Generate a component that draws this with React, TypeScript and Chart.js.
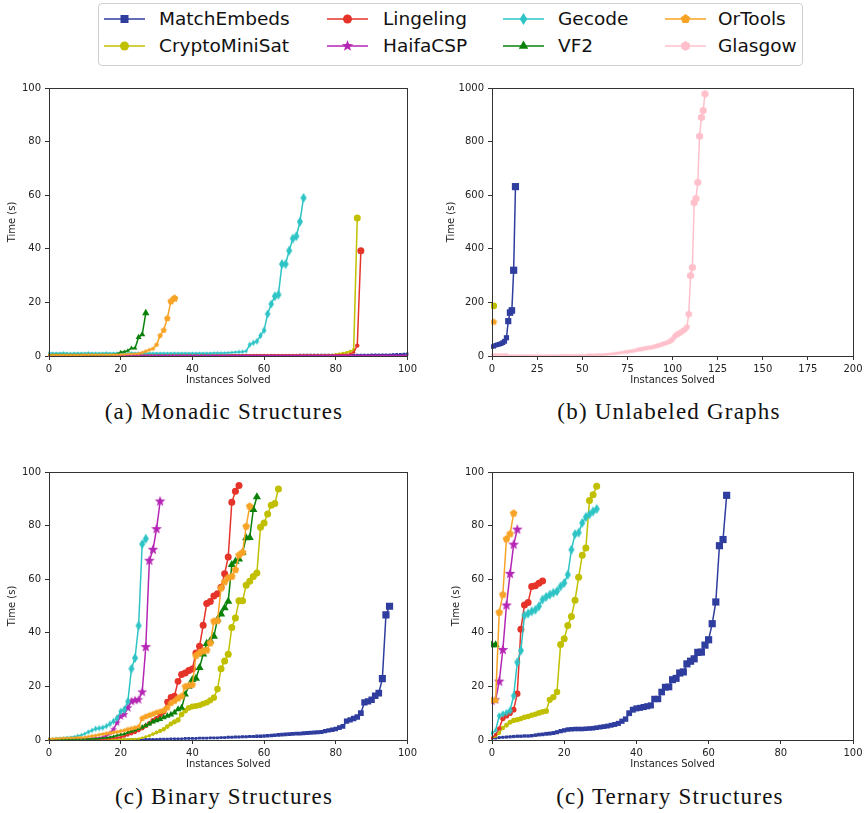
import React, { useEffect, useRef } from "react";
import { Chart, registerables } from "chart.js";

Chart.register(...registerables);

// ---------------- series meta (legend order) ----------------
const seriesNames = ["MatchEmbeds", "CryptoMiniSat", "Lingeling", "HaifaCSP", "Gecode", "VF2", "OrTools", "Glasgow"];
const seriesColors = ["#2e3d9e", "#c0c000", "#e5332a", "#b526b5", "#2ec4c6", "#0a820a", "#f7a326", "#ffc0cb"];
const seriesMarkers = ["square", "circle", "circle", "star", "thinDiamond", "triangle", "pentagon", "hexagon"];

// ---------------- (a) Monadic Structures ----------------
const monadicMatchEmbeds = [
  0.3, 0.3, 0.3, 0.3, 0.3, 0.3, 0.3, 0.3, 0.3, 0.3,
  0.3, 0.3, 0.3, 0.3, 0.3, 0.3, 0.3, 0.3, 0.3, 0.3,
  0.3, 0.3, 0.3, 0.3, 0.3, 0.3, 0.3, 0.3, 0.3, 0.3,
  0.3, 0.3, 0.3, 0.3, 0.3, 0.3, 0.3, 0.3, 0.3, 0.3,
  0.3, 0.3, 0.3, 0.3, 0.3, 0.3, 0.3, 0.3, 0.3, 0.3,
  0.35, 0.35, 0.35, 0.35, 0.35, 0.35, 0.35, 0.35, 0.35, 0.35,
  0.35, 0.35, 0.35, 0.35, 0.35, 0.35, 0.35, 0.35, 0.35, 0.35,
  0.4, 0.4, 0.4, 0.4, 0.4, 0.4, 0.4, 0.4, 0.4, 0.4,
  0.4, 0.4, 0.4, 0.4, 0.4, 0.4, 0.4, 0.4, 0.4, 0.4,
  0.45, 0.5, 0.5, 0.5, 0.5, 0.5, 0.55, 0.6, 0.6, 0.7, 0.8,
];
const monadicCryptoMiniSat = [
  0.4, 0.4, 0.4, 0.4, 0.4, 0.4, 0.4, 0.4, 0.4, 0.4,
  0.4, 0.4, 0.4, 0.4, 0.4, 0.4, 0.4, 0.4, 0.4, 0.4,
  0.4, 0.4, 0.4, 0.4, 0.4, 0.4, 0.4, 0.4, 0.4, 0.4,
  0.4, 0.4, 0.4, 0.4, 0.4, 0.4, 0.4, 0.4, 0.4, 0.4,
  0.4, 0.4, 0.4, 0.4, 0.4, 0.4, 0.4, 0.4, 0.4, 0.4,
  0.4, 0.4, 0.4, 0.4, 0.4, 0.4, 0.4, 0.4, 0.4, 0.4,
  0.4, 0.4, 0.4, 0.4, 0.4, 0.4, 0.4, 0.4, 0.4, 0.4,
  0.4, 0.4, 0.4, 0.4, 0.4, 0.4, 0.4, 0.4, 0.4, 0.4,
  0.6, 0.8, 1.0, 1.3, 1.7, 2.3, 51.5,
];
const monadicLingeling = [
  0.3, 0.3, 0.3, 0.3, 0.3, 0.3, 0.3, 0.3, 0.3, 0.3,
  0.3, 0.3, 0.3, 0.3, 0.3, 0.3, 0.3, 0.3, 0.3, 0.3,
  0.3, 0.3, 0.3, 0.3, 0.3, 0.3, 0.3, 0.3, 0.3, 0.3,
  0.3, 0.3, 0.3, 0.3, 0.3, 0.3, 0.3, 0.3, 0.3, 0.3,
  0.3, 0.3, 0.3, 0.3, 0.3, 0.3, 0.3, 0.3, 0.3, 0.3,
  0.3, 0.3, 0.3, 0.3, 0.3, 0.3, 0.3, 0.3, 0.3, 0.3,
  0.3, 0.3, 0.3, 0.3, 0.3, 0.3, 0.3, 0.3, 0.3, 0.3,
  0.3, 0.3, 0.3, 0.3, 0.3, 0.3, 0.3, 0.3, 0.3, 0.3,
  0.4, 0.4, 0.5, 0.5, 0.7, 1.4, 3.9, 39.3,
];
const monadicHaifaCSP = [
  0.15, 0.15, 0.15, 0.15, 0.15, 0.15, 0.15, 0.15, 0.15, 0.15,
  0.15, 0.15, 0.15, 0.15, 0.15, 0.15, 0.15, 0.15, 0.15, 0.15,
  0.15, 0.15, 0.15, 0.15, 0.15, 0.15, 0.15, 0.15, 0.15, 0.15,
  0.15, 0.15, 0.15, 0.15, 0.15, 0.15, 0.15, 0.15, 0.15, 0.15,
  0.15, 0.15, 0.15, 0.15, 0.15, 0.15, 0.15, 0.15, 0.15, 0.15,
  0.15, 0.15, 0.15, 0.15, 0.15, 0.15, 0.15, 0.15, 0.15, 0.15,
  0.15, 0.15, 0.15, 0.15, 0.15, 0.15, 0.15, 0.15, 0.15, 0.15,
  0.15, 0.15, 0.15, 0.15, 0.15, 0.15, 0.15, 0.15, 0.15, 0.15,
  0.15, 0.15, 0.15, 0.15, 0.15, 0.15, 0.15, 0.15, 0.15, 0.15,
  0.15, 0.15, 0.15, 0.15, 0.15, 0.15, 0.15, 0.15, 0.15, 0.15, 0.15,
];
const monadicGecode = [
  1.1, 1.0, 1.0, 1.0, 1.1, 1.0, 0.9, 1.0, 1.0, 1.0,
  1.0, 1.1, 1.0, 1.0, 1.0, 1.0, 1.1, 1.0, 1.0, 1.0,
  1.0, 1.0, 1.0, 1.1, 1.0, 1.0, 1.0, 1.0, 1.0, 1.0,
  1.0, 1.0, 1.0, 1.0, 1.0, 1.0, 1.0, 1.0, 1.0, 1.0,
  1.0, 1.0, 1.0, 1.0, 1.0, 1.0, 1.1, 1.1, 1.1, 1.1,
  1.2, 1.3, 1.4, 1.5, 1.6, 1.8,
  4.2, 4.9, 5.5, 7.6, 9.6, 15.7, 19.4, 22.3, 22.9, 34.3, 34.3, 39.3, 43.8, 44.7, 50.1, 59.0,
];
const monadicVF2 = [
  0.5, 0.5, 0.5, 0.5, 0.5, 0.5, 0.5, 0.5, 0.5, 0.5,
  0.5, 0.5, 0.5, 0.5, 0.5, 0.5, 0.5, 0.5, 0.6, 0.7,
  1.5, 1.6, 2.0, 2.9, 2.9, 7.0, 8.0, 16.0,
];
const monadicOrTools = [
  0.4, 0.4, 0.4, 0.4, 0.4, 0.4, 0.4, 0.4, 0.4, 0.4,
  0.5, 0.5, 0.5, 0.5, 0.5, 0.5, 0.5, 0.5, 0.5, 0.5,
  0.6, 0.6, 0.7, 0.7, 0.8,
  0.9, 1.3, 1.8, 2.3, 2.7, 4.2, 7.6, 9.6, 14.0, 20.4, 21.5,
];
const monadicGlasgow: (number | null)[] = [];

// ---------------- (b) Unlabeled Graphs ----------------
const unlabeledMatchEmbeds = [35, 36, 40, 42, 44, 46, 50, 55, 68, 130, 162, 170, 320, 632];
const unlabeledCryptoMiniSat = [null, 187];
const unlabeledLingeling: (number | null)[] = [];
const unlabeledHaifaCSP: (number | null)[] = [];
const unlabeledGecode: (number | null)[] = [];
const unlabeledVF2: (number | null)[] = [];
const unlabeledOrTools = [null, 127];
const unlabeledGlasgow = [
  5, 5, 5, 5, 5, 5, 5, 5, 5, 3,
  2, 2, 2, 2, 2, 2, 2, 2, 2, 2,
  2, 2, 2, 2, 2, 2, 2, 2, 2, 2,
  2, 2, 2, 2, 2, 2, 2, 2, 3, 3,
  3, 3, 3, 3, 3, 3, 3, 3, 3, 3,
  3, 3, 3, 4, 4, 4, 4, 4, 5, 5,
  5, 5, 5.5, 6, 6.5, 7, 7.5, 8, 9, 10,
  11, 12, 13, 14, 15, 16, 17, 18, 19, 20,
  22, 24, 25, 26, 27, 29, 30, 31, 32, 33,
  35, 37, 39, 41, 43, 46, 48, 50, 53, 57,
  62, 72, 78, 82, 86, 90, 95, 100, 108, 156,
  300, 330, 572, 587, 648, 820, 890, 916, 978,
];

// ---------------- (c) Binary Structures ----------------
const binaryMatchEmbeds = [
  0.1, 0.1, 0.1, 0.1, 0.1, 0.1, 0.1, 0.1, 0.1, 0.1,
  0.1, 0.1, 0.1, 0.1, 0.2, 0.2, 0.2, 0.2, 0.2, 0.2,
  0.2, 0.2, 0.2, 0.2, 0.2, 0.3, 0.3, 0.3, 0.3, 0.3,
  0.3, 0.4, 0.4, 0.4, 0.5, 0.5, 0.5, 0.5, 0.6, 0.6,
  0.6, 0.6, 0.7, 0.7, 0.7, 0.8, 0.8, 0.8, 0.9, 0.9,
  1.0, 1.0, 1.1, 1.1, 1.2, 1.2, 1.3, 1.3, 1.4, 1.4,
  1.5, 1.6, 1.7, 1.8, 1.9, 2.0, 2.1, 2.2, 2.3, 2.4,
  2.4, 2.5, 2.6, 2.7, 2.8, 2.9, 3.0, 3.3, 3.6, 3.8,
  4.1, 4.6, 5.1, 7.0, 7.5, 8.0, 8.6, 10.0, 14.0, 14.4,
  15.0, 16.5, 17.5, 22.9, 46.7, 49.9,
];
const binaryCryptoMiniSat = [
  0.1, 0.1, 0.1, 0.1, 0.1, 0.1, 0.1, 0.1, 0.1, 0.1,
  0.1, 0.1, 0.1, 0.2, 0.2, 0.2, 0.2, 0.2, 0.2, 0.3,
  0.3, 0.3, 0.3, 0.4, 0.4, 0.5,
  0.8, 1.2, 1.6, 2.2, 2.8, 3.4, 4.0, 5.0, 6.0, 6.8,
  7.5, 9.5, 11.0, 12.0, 12.5, 12.7, 13.0, 13.5, 14.0, 14.8,
  15.8, 19.0, 26.6, 29.5, 32.0, 42.0, 45.5, 52.0, 52.0, 57.7,
  59.2, 61.0, 62.3, 79.4, 81.0, 84.3, 87.6, 88.2, 93.7,
];
const binaryLingeling = [
  0.1, 0.1, 0.1, 0.1, 0.1, 0.2, 0.2, 0.2, 0.2, 0.2,
  0.2, 0.3, 0.3, 0.3, 0.4, 0.4, 0.5, 0.6, 0.7, 0.8,
  1.0, 1.4, 1.9, 2.4, 2.9, 3.6, 4.4, 5.3, 6.2, 7.2,
  8.0, 9.5, 10.6, 14.2, 16.0, 16.4, 21.9, 24.4, 25.0, 25.9,
  26.5, 32.5, 35.0, 42.8, 50.9, 51.7, 53.7, 54.6, 57.0, 62.0,
  68.3, 88.7, 92.8, 95.0,
];
const binaryHaifaCSP = [
  0.2, 0.2, 0.2, 0.2, 0.3, 0.3, 0.3, 0.3, 0.4, 0.4,
  0.5, 0.5, 0.6, 0.7, 0.8, 1.0, 1.5, 2.5, 4.0, 6.5,
  8.8, 9.5, 12.0, 14.4, 14.8, 15.0, 17.9, 34.7, 66.9, 71.0,
  78.7, 89.0,
];
const binaryGecode = [
  0.5, 0.5, 0.6, 0.7, 0.8, 0.9, 1.0, 1.2, 1.5, 1.8,
  2.3, 3.0, 3.6, 4.2, 4.4, 4.6, 5.2, 6.0, 7.0, 8.2,
  10.7, 11.3, 14.4, 26.6, 30.6, 42.7, 73.1, 75.1,
];
const binaryVF2 = [
  0.1, 0.1, 0.1, 0.2, 0.2, 0.2, 0.2, 0.3, 0.3, 0.3,
  0.4, 0.4, 0.5, 0.5, 0.6, 0.7, 0.8, 1.0, 1.3, 1.7,
  2.0, 2.2, 2.8, 3.3, 3.7, 4.3, 4.8, 5.4, 6.0, 6.8,
  7.3, 7.8, 8.4, 9.0, 9.5, 10.2, 11.5, 12.0, 17.0, 20.0,
  22.5, 23.0, 27.0, 32.0, 36.0, 37.0, 38.7, 45.0, 47.0, 49.3,
  51.7, 65.4, 66.6, 67.5, 70.0, 75.4, 75.5, 86.0, 90.7,
];
const binaryOrTools = [
  0.5, 0.5, 0.6, 0.6, 0.7, 0.7, 0.8, 0.8, 0.9, 0.9,
  1.0, 1.3, 1.5, 1.7, 2.0, 2.2, 2.4, 2.6, 2.8, 3.0,
  3.3, 3.6, 4.0, 4.3, 4.6, 5.0, 8.0, 8.7, 9.2, 9.7,
  10.2, 10.6, 11.0, 12.0, 13.7, 14.5, 15.5, 16.3, 19.9, 20.3,
  20.6, 31.5, 32.5, 33.2, 33.5, 36.2, 44.3, 44.5, 56.7, 59.0,
  60.5, 61.0, 63.5, 69.0, 70.0, 79.7, 87.2,
];
const binaryGlasgow: (number | null)[] = [];

// ---------------- (d) Ternary Structures ----------------
const ternaryMatchEmbeds = [
  0.6, 0.7, 0.9, 1.0, 1.1, 1.2, 1.3, 1.4, 1.4, 1.5,
  1.5, 1.6, 1.8, 2.0, 2.1, 2.3, 2.4, 2.6, 2.9, 3.3,
  3.6, 3.9, 4.0, 4.1, 4.1, 4.1, 4.2, 4.3, 4.4, 4.6,
  4.8, 5.0, 5.2, 5.5, 5.8, 6.2, 7.0, 7.8, 10.0, 11.3,
  11.8, 12.0, 12.3, 12.6, 12.9, 15.3, 15.3, 17.9, 19.7, 19.8,
  22.5, 23.0, 25.0, 25.4, 28.4, 29.4, 30.3, 32.7, 32.8, 35.4,
  37.4, 43.4, 51.5, 72.5, 74.8, 91.3,
];
const ternaryCryptoMiniSat = [
  0.8, 1.4, 2.6, 4.5, 5.5, 6.6, 7.3, 7.6, 8.0, 8.5,
  8.8, 9.2, 9.6, 10.1, 10.5, 10.8, 15.0, 16.0, 17.9, 35.6,
  37.8, 42.7, 46.1, 52.1, 60.7, 68.9, 71.6, 89.4, 91.5, 94.7,
];
const ternaryLingeling = [0.8, 2.0, 4.3, 8.0, 9.0, 10.0, 11.3, 17.3, 41.3, 50.4, 51.3, 57.3, 57.6, 58.5, 59.3];
const ternaryHaifaCSP = [14.5, 15.0, 21.8, 33.6, 50.2, 62.0, 72.9, 78.5];
const ternaryGecode = [
  2.5, 3.6, 9.0, 9.7, 10.2, 11.0, 16.5, 29.0, 33.4, 46.5,
  47.2, 48.0, 48.6, 49.9, 52.4, 53.4, 54.2, 54.9, 55.5, 57.3,
  58.6, 61.7, 71.0, 76.8, 77.4, 81.0, 83.2, 84.2, 85.3, 86.2,
];
const ternaryVF2 = [35.5, 35.5];
const ternaryOrTools = [14.8, 14.8, 47.6, 54.2, 75.0, 76.9, 84.6];
const ternaryGlasgow: (number | null)[] = [];

// ---------------- axis settings ----------------
const xTitle = "Instances Solved";
const yTitle = "Time (s)";

type PanelDef = {
  left: number; top: number; w: number; h: number;
  padLeft: number; padRight: number; yAxisW: number;
  xMax: number; xStep: number; yMax: number; yStep: number;
  series: (number | null)[][];
};

const panels: PanelDef[] = [
  {
    left: 0, top: 78, w: 420, h: 312, padLeft: 2, padRight: 11, yAxisW: 47,
    xMax: 100, xStep: 20, yMax: 100, yStep: 20,
    series: [monadicMatchEmbeds, monadicCryptoMiniSat, monadicLingeling, monadicHaifaCSP, monadicGecode, monadicVF2, monadicOrTools, monadicGlasgow],
  },
  {
    left: 430, top: 78, w: 436, h: 312, padLeft: 11, padRight: 13, yAxisW: 51,
    xMax: 200, xStep: 25, yMax: 1000, yStep: 200,
    series: [unlabeledMatchEmbeds, unlabeledCryptoMiniSat, unlabeledLingeling, unlabeledHaifaCSP, unlabeledGecode, unlabeledVF2, unlabeledOrTools, unlabeledGlasgow],
  },
  {
    left: 0, top: 462, w: 420, h: 312, padLeft: 2, padRight: 11, yAxisW: 47,
    xMax: 100, xStep: 20, yMax: 100, yStep: 20,
    series: [binaryMatchEmbeds, binaryCryptoMiniSat, binaryLingeling, binaryHaifaCSP, binaryGecode, binaryVF2, binaryOrTools, binaryGlasgow],
  },
  {
    left: 430, top: 462, w: 436, h: 312, padLeft: 16, padRight: 13, yAxisW: 46,
    xMax: 100, xStep: 20, yMax: 100, yStep: 20,
    series: [ternaryMatchEmbeds, ternaryCryptoMiniSat, ternaryLingeling, ternaryHaifaCSP, ternaryGecode, ternaryVF2, ternaryOrTools, ternaryGlasgow],
  },
];

const captions = [
  { text: "(a) Monadic Structures", cx: 224, cy: 412 },
  { text: "(b) Unlabeled Graphs", cx: 669, cy: 412 },
  { text: "(c) Binary Structures", cx: 224, cy: 797 },
  { text: "(c) Ternary Structures", cx: 670, cy: 797 },
];

// ---------------- markers ----------------
function baseRadius(v: number, yMax: number) {
  return Math.min(3.5, 0.9 + 0.8 * Math.log(1 + (100 * Math.max(v, 0)) / yMax));
}

const markerCache = new Map<string, HTMLCanvasElement>();
function customMarker(shape: string, color: string, r: number): HTMLCanvasElement {
  const q = Math.max(0.5, Math.round(r * 4) / 4);
  const key = shape + color + q;
  const hit = markerCache.get(key);
  if (hit) return hit;
  const R = q * (shape === "star" ? 1.6 : shape === "thinDiamond" ? 1.4 : 1.15);
  const size = Math.ceil(R * 2 + 2);
  const c = document.createElement("canvas");
  c.width = size;
  c.height = size;
  const g = c.getContext("2d")!;
  g.translate(size / 2, size / 2);
  g.fillStyle = color;
  g.beginPath();
  const poly = (n: number, rad: number) => {
    for (let k = 0; k < n; k++) {
      const a = -Math.PI / 2 + (k * 2 * Math.PI) / n;
      const px = rad * Math.cos(a);
      const py = rad * Math.sin(a);
      if (k === 0) g.moveTo(px, py);
      else g.lineTo(px, py);
    }
  };
  if (shape === "star") {
    for (let k = 0; k < 10; k++) {
      const a = -Math.PI / 2 + (k * Math.PI) / 5;
      const rr = k % 2 ? R * 0.42 : R;
      if (k === 0) g.moveTo(rr * Math.cos(a), rr * Math.sin(a));
      else g.lineTo(rr * Math.cos(a), rr * Math.sin(a));
    }
  } else if (shape === "pentagon") {
    poly(5, R);
  } else if (shape === "hexagon") {
    poly(6, R);
  } else {
    g.moveTo(0, -R);
    g.lineTo(0.62 * R, 0);
    g.lineTo(0, R);
    g.lineTo(-0.62 * R, 0);
  }
  g.closePath();
  g.fill();
  markerCache.set(key, c);
  return c;
}

const builtin: Record<string, [string, number]> = {
  square: ["rect", 1.45],
  circle: ["circle", 1.0],
  triangle: ["triangle", 1.35],
};

const framePlugin = {
  id: "frame",
  afterDatasetsDraw(chart: any) {
    const { ctx, chartArea: a } = chart;
    const al = (p: number) => Math.round(p - 0.5) + 0.5;
    ctx.save();
    ctx.strokeStyle = "#333";
    ctx.lineWidth = 1;
    const x0 = al(a.left), x1 = al(a.right), y0 = al(a.top), y1 = al(a.bottom);
    ctx.strokeRect(x0, y0, x1 - x0, y1 - y0);
    ctx.restore();
  },
};

const tickFont = { family: "'DejaVu Sans', sans-serif", size: 10 };
const textColor = "#222";
const plainTick = (v: any) => String(v);

function Panel({ def }: { def: PanelDef }) {
  const ref = useRef<HTMLCanvasElement>(null);
  useEffect(() => {
    const datasets = def.series.map((vals, i) => {
      const color = seriesColors[i];
      const shape = seriesMarkers[i];
      return {
        label: seriesNames[i],
        data: vals.map((y, x) => ({ x, y })),
        borderColor: color,
        backgroundColor: color,
        borderWidth: 1.5,
        pointBackgroundColor: color,
        pointBorderColor: color,
        pointBorderWidth: 0,
        pointRadius: (c: any) => {
          const y = c.raw && c.raw.y != null ? c.raw.y : 0;
          const r = baseRadius(y, def.yMax);
          return builtin[shape] ? r * builtin[shape][1] : r;
        },
        pointStyle: (c: any) => {
          const y = c.raw && c.raw.y != null ? c.raw.y : 0;
          if (builtin[shape]) return builtin[shape][0];
          return customMarker(shape, color, baseRadius(y, def.yMax));
        },
        tension: 0,
        spanGaps: false,
        order: 8 - i,
        clip: 1,
      };
    });
    const chart = new Chart(ref.current!, {
      type: "line",
      data: { datasets } as any,
      plugins: [framePlugin],
      options: {
        animation: false,
        responsive: false,
        maintainAspectRatio: false,
        events: [],
        layout: { padding: { left: def.padLeft, right: def.padRight, top: 10, bottom: 0 } },
        plugins: { legend: { display: false }, tooltip: { enabled: false } },
        scales: {
          x: {
            type: "linear",
            min: 0,
            max: def.xMax,
            afterFit: (s: any) => { s.height = 34; },
            ticks: { stepSize: def.xStep, font: tickFont, color: textColor, padding: 3, autoSkip: false, maxRotation: 0, callback: plainTick },
            grid: { drawOnChartArea: false, drawTicks: true, tickLength: 4, color: "#333" },
            border: { display: true, color: "#333" },
            title: { display: true, text: xTitle, font: tickFont, color: textColor, padding: { top: 4, bottom: 4 } },
          },
          y: {
            type: "linear",
            min: 0,
            max: def.yMax,
            afterFit: (s: any) => { s.width = def.yAxisW; },
            ticks: { stepSize: def.yStep, font: tickFont, color: textColor, padding: 4, autoSkip: false, callback: plainTick },
            grid: { drawOnChartArea: false, drawTicks: true, tickLength: 4, color: "#333" },
            border: { display: true, color: "#333" },
            title: { display: true, text: yTitle, font: tickFont, color: textColor, padding: { top: 4, bottom: 4 } },
          },
        },
      } as any,
    });
    return () => chart.destroy();
  }, [def]);
  return (
    <canvas
      ref={ref}
      width={def.w}
      height={def.h}
      style={{ position: "absolute", left: def.left, top: def.top, width: def.w, height: def.h }}
    />
  );
}

// ---------------- legend ----------------
function LegendMarker({ shape, color }: { shape: string; color: string }) {
  const cx = 20.5;
  const cy = 8;
  const polyPts = (n: number, R: number, inner?: number) => {
    const pts: string[] = [];
    const m = inner ? n * 2 : n;
    for (let k = 0; k < m; k++) {
      const a = -Math.PI / 2 + (k * 2 * Math.PI) / m;
      const rr = inner && k % 2 ? inner : R;
      pts.push(`${(cx + rr * Math.cos(a)).toFixed(2)},${(cy + rr * Math.sin(a)).toFixed(2)}`);
    }
    return pts.join(" ");
  };
  let el: React.ReactNode = null;
  if (shape === "square") el = <rect x={cx - 4} y={cy - 4} width={8} height={8} fill={color} />;
  else if (shape === "circle") el = <circle cx={cx} cy={cy} r={4.5} fill={color} />;
  else if (shape === "triangle") el = <polygon points={polyPts(3, 5.5)} fill={color} />;
  else if (shape === "star") el = <polygon points={polyPts(5, 6, 2.5)} fill={color} />;
  else if (shape === "pentagon") el = <polygon points={polyPts(5, 5)} fill={color} />;
  else if (shape === "hexagon") el = <polygon points={polyPts(6, 5)} fill={color} />;
  else el = <polygon points={`${cx},${cy - 6} ${cx + 3.8},${cy} ${cx},${cy + 6} ${cx - 3.8},${cy}`} fill={color} />;
  return (
    <svg width={41} height={16} style={{ display: "block" }}>
      <line x1={0} y1={cy} x2={41} y2={cy} stroke={color} strokeWidth={1.6} />
      {el}
    </svg>
  );
}

const legendLineX = [104, 327, 503, 665];
const legendTextX = [159, 383, 558, 718];
const legendRowY = [19, 46];

function Legend() {
  return (
    <>
      <div
        style={{
          position: "absolute", left: 98, top: 3, width: 703, height: 61,
          border: "1px solid #cfcfcf", borderRadius: 4, background: "#fff",
        }}
      />
      {seriesNames.map((name, i) => {
        const col = Math.floor(i / 2);
        const row = i % 2;
        const cy = legendRowY[row];
        return (
          <React.Fragment key={name}>
            <div style={{ position: "absolute", left: legendLineX[col], top: cy - 8 }}>
              <LegendMarker shape={seriesMarkers[i]} color={seriesColors[i]} />
            </div>
            <div
              style={{
                position: "absolute", left: legendTextX[col], top: cy - 11, height: 22, lineHeight: "22px",
                fontFamily: "'DejaVu Sans', sans-serif", fontSize: 18.5, color: "#111", whiteSpace: "nowrap",
              }}
            >
              {name}
            </div>
          </React.Fragment>
        );
      })}
    </>
  );
}

export default function App() {
  return (
    <div style={{ position: "absolute", left: 0, top: 0, width: 866, height: 813, background: "#fff", overflow: "hidden" }}>
      <Legend />
      {panels.map((p, i) => (
        <Panel key={i} def={p} />
      ))}
      {captions.map((c) => (
        <div
          key={c.text}
          style={{
            position: "absolute", left: c.cx - 210, top: c.cy - 13, width: 420, height: 26, lineHeight: "26px",
            textAlign: "center", fontFamily: "'Liberation Serif', serif", fontSize: 23, letterSpacing: 1.2,
            color: "#111", whiteSpace: "nowrap",
          }}
        >
          {c.text}
        </div>
      ))}
    </div>
  );
}
